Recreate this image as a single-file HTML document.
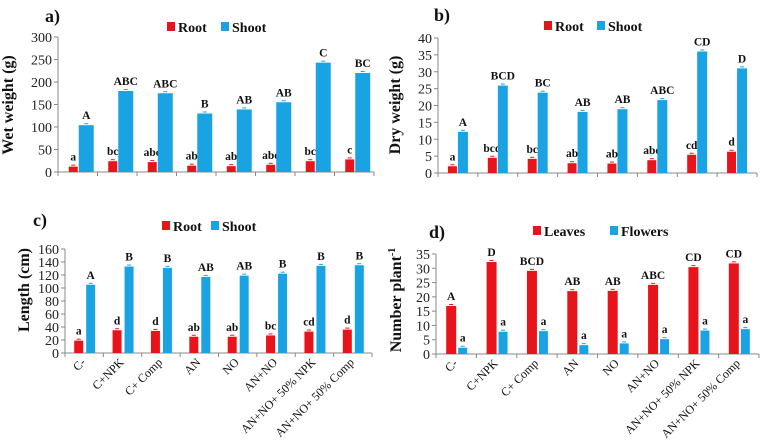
<!DOCTYPE html>
<html><head><meta charset="utf-8"><style>
body{margin:0;background:#fff}
svg{display:block}
svg text{font-family:"Liberation Serif","Times New Roman",serif}
</style></head><body>
<svg id="c" width="767" height="444" viewBox="0 0 767 444" font-family="Liberation Serif, serif"></svg>
<script>
const categories=["C-","C+NPK","C+ Comp","AN","NO","AN+NO","AN+NO+ 50% NPK","AN+NO+ 50% Comp"];
const aRoot=[12,24,22,14,13,16,24,28];
const aShoot=[104,180,175,130,139,155,243,220];
const aRootL=["a","bc","abc","ab","ab","abc","bc","c"];
const aShootL=["A","ABC","ABC","B","AB","AB","C","BC"];
const aTicks=[0,50,100,150,200,250,300];
const bRoot=[2,4.5,4.2,2.9,2.8,3.8,5.4,6.3];
const bShoot=[12.2,25.9,23.8,18.1,18.9,21.6,36,31];
const bRootL=["a","bcd","bc","ab","ab","abc","cd","d"];
const bShootL=["A","BCD","BC","AB","AB","ABC","CD","D"];
const bTicks=[0,5,10,15,20,25,30,35,40];
const cRoot=[19,35,34,25,25,27,33,36];
const cShoot=[105,133,131,117,119,122,134,135];
const cRootL=["a","d","d","ab","ab","bc","cd","d"];
const cShootL=["A","B","B","AB","AB","B","B","B"];
const cTicks=[0,20,40,60,80,100,120,140,160];
const dLeaves=[16.8,32.2,29.1,22,22.1,24.2,30.4,31.7];
const dFlowers=[2.2,7.8,8,3.1,3.7,5.2,8.2,8.7];
const dLeavesL=["A","D","BCD","AB","AB","ABC","CD","CD"];
const dFlowersL=["a","a","a","a","a","a","a","a"];
const dTicks=[0,5,10,15,20,25,30,35];

const NS="http://www.w3.org/2000/svg";
const svg=document.getElementById('c');
const RED="#e8141c",BLUE="#1aa3e2";
function el(tag,attrs,parent,text){const e=document.createElementNS(NS,tag);for(const k in attrs)e.setAttribute(k,attrs[k]);if(text!==undefined)e.textContent=text;(parent||svg).appendChild(e);return e;}

function panel(o){
  const g=el('g',{});
  
  
  const max=o.ticks[o.ticks.length-1];
  const y=v=>o.y0-(v/max)*(o.y0-o.yTop);
  const cw=(o.x1-o.x0)/categories.length;
  const ya=el('line',{x1:o.x0,y1:o.yTop,x2:o.x0,y2:o.y0,stroke:"#888","stroke-width":1},g);
  
  const xa=el('line',{x1:o.x0,y1:o.y0,x2:o.x1,y2:o.y0,stroke:"#888","stroke-width":1},g);
  
  o.ticks.forEach(t=>{
    el('line',{x1:o.x0-4,x2:o.x0,y1:y(t),y2:y(t),stroke:"#888"},g);
    const tl=el('text',{x:o.x0-6,y:y(t)+5,"text-anchor":"end","font-size":14,fill:"#222"},g,String(t));
    
  });
  for(let i=0;i<=categories.length;i++){el('line',{x1:o.x0+i*cw,x2:o.x0+i*cw,y1:o.y0,y2:o.y0+4,stroke:"#888"},g);}
  categories.forEach((c,i)=>{
    const cx=o.x0+cw*(i+0.5);
    [[o.s1,o.l1,RED,o.r1],[o.s2,o.l2,BLUE,o.r2]].forEach(([s,l,col,r],k)=>{
      const bx=cx+r[0],bw=r[1]-r[0];
      const b=el('rect',{x:bx,y:y(s[i]),width:bw,height:o.y0-y(s[i]),fill:col},g);
      
      el('line',{x1:bx+bw/2-2,x2:bx+bw/2+2,y1:y(s[i])-1.5,y2:y(s[i])-1.5,stroke:col},g);
      const t=el('text',{x:bx+bw/2,y:y(s[i])-6,"text-anchor":"middle","font-size":11.5,"font-weight":"bold",fill:"#111"},g,l[i]);
      
    });
    if(o.xlabels){
      const t=el('text',{x:cx+2,y:o.y0+10,"text-anchor":"end","font-size":12,fill:"#111",transform:`rotate(-45 ${cx+2} ${o.y0+10})`},g,c);
      
    }
  });
  const yt=el('text',{x:o.ytx,y:o.yty,"text-anchor":"middle","font-size":16,"font-weight":"bold",fill:"#111",transform:`rotate(-90 ${o.ytx} ${o.yty})`},g);
  
  yt.innerHTML=o.ytitle;
  const pl=el('text',{x:o.px,y:o.py,"font-size":18,"font-weight":"bold",fill:"#111"},g,o.plabel);
  
  const lg=el('g',{},g);
  const e1=el('rect',{x:o.lg[0],y:o.lg[1]-10,width:8,height:9,fill:RED},lg);
  
  const t1=el('text',{x:o.lg[0]+11,y:o.lg[1],"font-size":14,"font-weight":"bold",fill:"#111"},lg,o.n1L);
  
  const e2=el('rect',{x:o.lg[2],y:o.lg[1]-10,width:8,height:9,fill:BLUE},lg);
  
  const t2=el('text',{x:o.lg[2]+11,y:o.lg[1],"font-size":14,"font-weight":"bold",fill:"#111"},lg,o.n2L);
  
}
panel({name:'panel-a-wet-weight',x0:58,x1:374,y0:172,yTop:37,ticks:aTicks,s1:aRoot,s2:aShoot,l1:aRootL,l2:aShootL,r1:[-9,0],r2:[1,16],n1:'root',n2:'shoot',n1L:'Root',n2L:'Shoot',ytitle:'Wet weight (g)',ytx:13,yty:105,plabel:'a)',px:45,py:22,lg:[167,32,221],xlabels:false});
panel({name:'panel-b-dry-weight',x0:438,x1:757,y0:173,yTop:38,ticks:bTicks,s1:bRoot,s2:bShoot,l1:bRootL,l2:bShootL,r1:[-10,-1],r2:[0,10],n1:'root',n2:'shoot',n1L:'Root',n2L:'Shoot',ytitle:'Dry weight (g)',ytx:400,yty:105,plabel:'b)',px:434,py:21,lg:[544,31,597],xlabels:false});
panel({name:'panel-c-length',x0:65,x1:372,y0:353,yTop:249,ticks:cTicks,s1:cRoot,s2:cShoot,l1:cRootL,l2:cShootL,r1:[-10,-1],r2:[2,11],n1:'root',n2:'shoot',n1L:'Root',n2L:'Shoot',ytitle:'Length (cm)',ytx:29,yty:290,plabel:'c)',px:33,py:226,lg:[162,231,211],xlabels:true});
panel({name:'panel-d-number',x0:436,x1:759,y0:354,yTop:254,ticks:dTicks,s1:dLeaves,s2:dFlowers,l1:dLeavesL,l2:dFlowersL,r1:[-10,0],r2:[2,11],n1:'leaves',n2:'flowers',n1L:'Leaves',n2L:'Flowers',ytitle:'Number plant<tspan dy="-6" font-size="10">-1</tspan>',ytx:401,yty:300,plabel:'d)',px:429,py:238,lg:[533,236,610],xlabels:true});
</script>
</body></html>
